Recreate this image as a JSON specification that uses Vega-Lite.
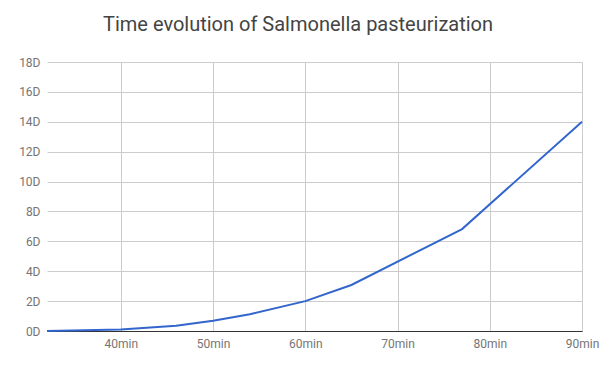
{
  "$schema": "https://vega.github.io/schema/vega-lite/v6.json",
  "width": 535,
  "height": 269,
  "autosize": {"type": "none"},
  "padding": {"left": 47, "top": 62, "right": 18, "bottom": 40},
  "background": "white",
  "title": {
    "text": "Time evolution of Salmonella pasteurization",
    "anchor": "start",
    "frame": "group",
    "dx": 56,
    "offset": 5,
    "baseline": "alphabetic",
    "font": "Roboto",
    "fontSize": 20,
    "fontWeight": "normal",
    "color": "#444444"
  },
  "config": {
    "view": {"stroke": null},
    "axis": {
      "labelFont": "Roboto",
      "labelFontSize": 12,
      "labelColor": "#757575",
      "grid": true,
      "gridColor": "#cccccc",
      "gridWidth": 1,
      "ticks": false,
      "domain": false,
      "title": null,
      "labelOverlap": false
    }
  },
  "data": {
    "values": [
      {"t": 32, "d": 0.0},
      {"t": 40, "d": 0.1},
      {"t": 46, "d": 0.35},
      {"t": 50, "d": 0.69},
      {"t": 54, "d": 1.12},
      {"t": 60, "d": 2.0},
      {"t": 65, "d": 3.08},
      {"t": 77, "d": 6.82},
      {"t": 90, "d": 14.0}
    ]
  },
  "mark": {"type": "line", "color": "#3366cc", "strokeWidth": 2, "interpolate": "linear"},
  "encoding": {
    "x": {
      "field": "t",
      "type": "quantitative",
      "scale": {"domain": [32, 90], "nice": false, "zero": false},
      "axis": {
        "values": [40, 50, 60, 70, 80, 90],
        "labelExpr": "datum.value + 'min'",
        "labelPadding": 7,
        "labelFlush": false,
        "grid": true,
        "domain": true,
        "domainColor": "#333333",
        "domainWidth": 1
      }
    },
    "y": {
      "field": "d",
      "type": "quantitative",
      "scale": {"domain": [0, 18], "nice": false},
      "axis": {
        "values": [0, 2, 4, 6, 8, 10, 12, 14, 16, 18],
        "labelExpr": "datum.value + 'D'",
        "labelPadding": 7,
        "grid": true
      }
    }
  }
}
